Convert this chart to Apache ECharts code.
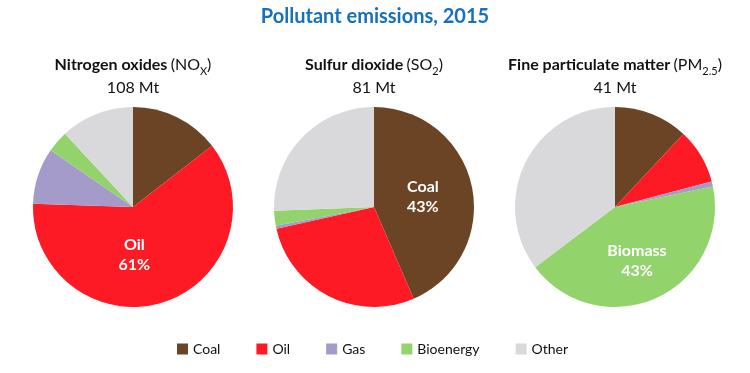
<!DOCTYPE html>
<html><head><meta charset="utf-8">
<script src="https://cdn.jsdelivr.net/npm/echarts@6/dist/echarts.min.js"></script>
<style>html,body{margin:0;padding:0;background:#fff}#c{width:750px;height:373px}</style>
</head><body><div id="c"></div>
<script>
const categories = ['Coal', 'Oil', 'Gas', 'Bioenergy', 'Other'];
const noxShares = [14.5, 61, 9.1, 3.5, 11.9];
const so2Shares = [43.5, 28.0, 0.5, 2.4, 25.6];
const pmShares = [12.0, 8.9, 0.8, 43.0, 35.3];
const pieTitles = [
  {name: 'Nitrogen oxides', chem: 'NO', sub: 'X', total: '108 Mt'},
  {name: 'Sulfur dioxide', chem: 'SO', sub: '2', total: '81 Mt'},
  {name: 'Fine particulate matter', chem: 'PM', sub: '2.5', total: '41 Mt'}
];
const labelled = [{idx: 1, text: 'Oil\n61%'}, {idx: 0, text: 'Coal\n43%'}, {idx: 3, text: 'Biomass\n43%'}];
const colors = ['#6a4425', '#fe1a24', '#a49bca', '#92d36c', '#d9d9dc'];

const FONT = 'Lato, "Open Sans", sans-serif';
const centersX = [133, 374, 615];
const labelDx = [-15, -3, 0];
const labelDy = [-3, 1, 6];
const allShares = [noxShares, so2Shares, pmShares];

const chart = echarts.init(document.getElementById('c'));
const series = allShares.map((vals, s) => ({
  type: 'pie',
  center: [centersX[s], 207],
  radius: [0, 100],
  startAngle: 90,
  clockwise: true,
  silent: true,
  label: {show: false},
  labelLine: {show: false},
  labelLayout: {dx: labelDx[s], dy: labelDy[s]},
  itemStyle: {borderWidth: 0},
  data: vals.map((v, i) => {
    const d = {name: categories[i], value: v, itemStyle: {color: colors[i]}};
    if (labelled[s].idx === i) {
      d.label = {show: true, position: 'inside', formatter: labelled[s].text,
        color: '#fff', fontSize: 16, fontWeight: 'bold', fontFamily: FONT, lineHeight: 20};
    }
    return d;
  })
}));

const graphics = [{
  type: 'text', left: 'center', top: 7,
  style: {text: 'Pollutant emissions, 2015', fill: '#1670c0', font: 'bold 20px ' + FONT}
}];
pieTitles.forEach((t, s) => {
  graphics.push({
    type: 'text', x: centersX[s], y: 53,
    style: {
      text: '{b|' + t.name + '} {n|(' + t.chem + '}{s|' + t.sub + '}{n|)}',
      textAlign: 'center',
      rich: {
        b: {font: 'bold 16px ' + FONT, fill: '#111', lineHeight: 20, verticalAlign: 'bottom'},
        n: {font: '16px ' + FONT, fill: '#111', lineHeight: 20, verticalAlign: 'bottom'},
        s: {font: '11px ' + FONT, fill: '#111', lineHeight: 14, verticalAlign: 'bottom', padding: [0, 0, -4, 0]}
      }
    }
  });
  graphics.push({
    type: 'text', x: centersX[s], y: 80,
    style: {text: t.total, textAlign: 'center', fill: '#111', font: '16px ' + FONT}
  });
});

chart.setOption({
  animation: false,
  legend: {
    data: categories, left: 177, top: 342, padding: 0,
    itemWidth: 11, itemHeight: 11, itemGap: 36, icon: 'rect',
    textStyle: {fontSize: 14, color: '#111', fontFamily: FONT},
    selectedMode: false
  },
  graphic: graphics,
  series: series
});
</script></body></html>
